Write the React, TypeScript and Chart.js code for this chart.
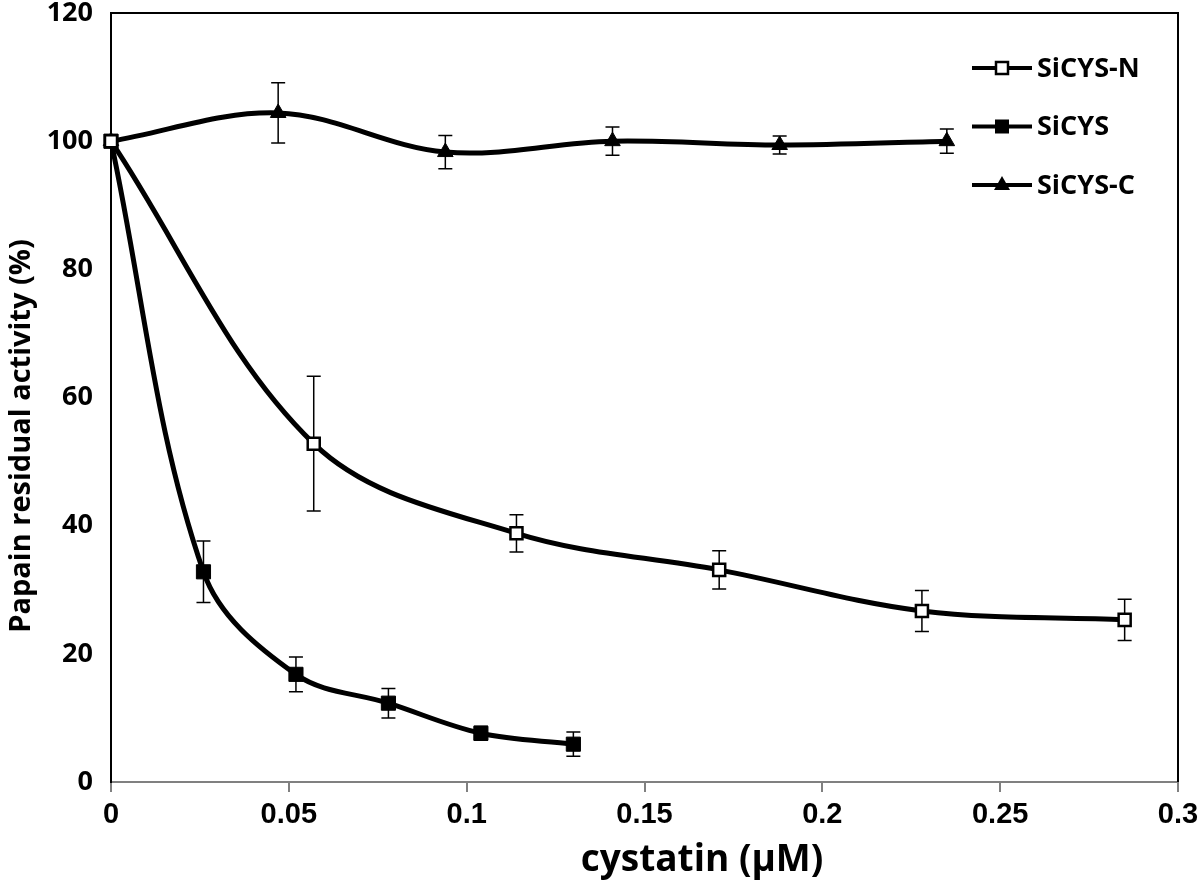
import React, { useEffect, useRef } from "react";
import { Chart, registerables } from "chart.js";

Chart.register(...registerables);

// ---------- data ----------
const SERIES_NAMES = ["SiCYS-N", "SiCYS", "SiCYS-C"];

const N_X = [0, 0.057, 0.114, 0.171, 0.228, 0.285];
const N_Y = [100, 52.8, 38.8, 33.1, 26.7, 25.3];
const N_ERR = [0, 10.5, 2.9, 3.0, 3.2, 3.2];

const S_X = [0, 0.026, 0.052, 0.078, 0.104, 0.13];
const S_Y = [100, 32.8, 16.8, 12.3, 7.6, 5.9];
const S_ERR = [0, 4.8, 2.7, 2.3, 1.1, 1.9];

const C_X = [0, 0.047, 0.094, 0.141, 0.188, 0.235];
const C_Y = [100, 104.4, 98.3, 100.0, 99.4, 100.0];
const C_ERR = [0, 4.7, 2.6, 2.2, 1.4, 1.9];

const X_TICKS = ["0", "0.05", "0.1", "0.15", "0.2", "0.25", "0.3"];
const Y_TICKS = ["0", "20", "40", "60", "80", "100", "120"];

const X_TITLE = "cystatin (μM)";
const Y_TITLE = "Papain residual activity (%)";

// ---------- helpers ----------
const toPoints = (xs: number[], ys: number[]) => xs.map((x, i) => ({ x, y: ys[i] }));

const errorBarPlugin = {
  id: "errorBars",
  beforeDatasetsDraw(chart: any) {
    const { ctx } = chart;
    const xs = chart.scales.x;
    const ys = chart.scales.y;
    ctx.save();
    ctx.strokeStyle = "#000";
    ctx.lineWidth = 1.5;
    chart.data.datasets.forEach((ds: any) => {
      ds.data.forEach((p: any, i: number) => {
        const e = ds.errors ? ds.errors[i] : 0;
        if (!e) return;
        const px = xs.getPixelForValue(p.x);
        const top = ys.getPixelForValue(p.y + e);
        const bot = ys.getPixelForValue(p.y - e);
        ctx.beginPath();
        ctx.moveTo(px, top);
        ctx.lineTo(px, bot);
        ctx.moveTo(px - 7, top);
        ctx.lineTo(px + 7, top);
        ctx.moveTo(px - 7, bot);
        ctx.lineTo(px + 7, bot);
        ctx.stroke();
      });
    });
    ctx.restore();
  },
};

const framePlugin = {
  id: "frame",
  beforeDatasetsDraw(chart: any) {
    const { ctx, chartArea } = chart;
    ctx.save();
    ctx.strokeStyle = "#000";
    ctx.lineWidth = 2;
    ctx.beginPath();
    ctx.moveTo(chartArea.left, chartArea.top);
    ctx.lineTo(chartArea.right, chartArea.top);
    ctx.lineTo(chartArea.right, chartArea.bottom);
    ctx.stroke();
    ctx.restore();
  },
};

const titlesPlugin = {
  id: "axisTitles",
  afterDraw(chart: any) {
    const { ctx } = chart;
    ctx.save();
    ctx.fillStyle = "#000";
    ctx.font = "bold 37px 'Open Sans'";
    ctx.textAlign = "center";
    ctx.textBaseline = "alphabetic";
    ctx.fillText(X_TITLE, 702, 871);
    ctx.translate(30, 436);
    ctx.rotate(-Math.PI / 2);
    ctx.font = "bold 29px 'Open Sans'";
    ctx.fillText(Y_TITLE, 0, 0);
    ctx.restore();
  },
};

const legendPlugin = {
  id: "customLegend",
  afterDraw(chart: any) {
    const { ctx } = chart;
    const x0 = 972;
    const x1 = 1032;
    const xm = (x0 + x1) / 2;
    const y0 = 68;
    const dy = 58.5;
    ctx.save();
    SERIES_NAMES.forEach((name, i) => {
      const y = y0 + i * dy;
      ctx.strokeStyle = "#000";
      ctx.lineWidth = 4;
      ctx.beginPath();
      ctx.moveTo(x0, y);
      ctx.lineTo(x1, y);
      ctx.stroke();
      if (i === 0) {
        ctx.fillStyle = "#fff";
        ctx.fillRect(xm - 6, y - 6, 12, 12);
        ctx.lineWidth = 2.5;
        ctx.strokeRect(xm - 6, y - 6, 12, 12);
      } else if (i === 1) {
        ctx.fillStyle = "#000";
        ctx.fillRect(xm - 7, y - 7, 14, 14);
      } else {
        ctx.fillStyle = "#000";
        ctx.beginPath();
        ctx.moveTo(xm, y - 9);
        ctx.lineTo(xm + 8, y + 5);
        ctx.lineTo(xm - 8, y + 5);
        ctx.closePath();
        ctx.fill();
      }
      ctx.fillStyle = "#000";
      ctx.font = "bold 27px 'Open Sans'";
      ctx.textAlign = "left";
      ctx.textBaseline = "middle";
      ctx.fillText(name, 1037, y + 1);
    });
    ctx.restore();
  },
};

export default function App() {
  const canvasRef = useRef<HTMLCanvasElement | null>(null);

  useEffect(() => {
    if (!canvasRef.current) return;
    const common = {
      borderColor: "#000",
      borderWidth: 5,
      tension: 0.35,
      fill: false,
      clip: false as any,
      pointBorderColor: "#000",
    };
    const chart = new Chart(canvasRef.current, {
      type: "line",
      data: {
        datasets: [
          {
            ...common,
            label: SERIES_NAMES[0],
            data: toPoints(N_X, N_Y),
            errors: N_ERR,
            pointStyle: "rect",
            pointRadius: 8.5,
            pointBackgroundColor: "#fff",
            pointBorderWidth: 2.5,
          } as any,
          {
            ...common,
            label: SERIES_NAMES[1],
            data: toPoints(S_X, S_Y),
            errors: S_ERR,
            pointStyle: "rect",
            pointRadius: 10,
            pointBackgroundColor: "#000",
            pointBorderWidth: 1,
          } as any,
          {
            ...common,
            label: SERIES_NAMES[2],
            data: toPoints(C_X, C_Y),
            errors: C_ERR,
            pointStyle: "triangle",
            pointRadius: 9,
            pointBackgroundColor: "#000",
            pointBorderWidth: 1,
          } as any,
        ],
      },
      options: {
        responsive: false,
        animation: false,
        events: [],
        layout: { padding: { top: 13, right: 22, left: 0, bottom: 0 } },
        plugins: {
          legend: { display: false },
          tooltip: { enabled: false },
        },
        scales: {
          x: {
            type: "linear",
            min: 0,
            max: 0.3,
            ticks: {
              stepSize: 0.05,
              autoSkip: false,
              maxRotation: 0,
              padding: 6,
              color: "#000",
              font: { family: "'Liberation Sans'", weight: "bold", size: 29 },
              callback: (v: any) => X_TICKS[Math.round(Number(v) / 0.05)] ?? "",
            },
            grid: {
              drawOnChartArea: false,
              drawTicks: true,
              tickLength: 10,
              color: "#808080",
              lineWidth: 2,
            },
            border: { display: true, color: "#808080", width: 2 },
            afterFit: (s: any) => {
              s.height = 103;
              s.paddingLeft = 0;
              s.paddingRight = 0;
            },
          } as any,
          y: {
            type: "linear",
            min: 0,
            max: 120,
            ticks: {
              stepSize: 20,
              padding: 18,
              color: "#000",
              font: { family: "'Open Sans'", weight: "bold", size: 27 },
              callback: (v: any) => Y_TICKS[Math.round(Number(v) / 20)] ?? "",
            },
            grid: { drawOnChartArea: false, drawTicks: false },
            border: { display: true, color: "#000", width: 2 },
            afterFit: (s: any) => {
              s.width = 111;
              s.paddingTop = 0;
              s.paddingBottom = 0;
            },
          } as any,
        },
      },
      plugins: [framePlugin, errorBarPlugin, titlesPlugin, legendPlugin],
    });
    return () => chart.destroy();
  }, []);

  return (
    <div style={{ position: "absolute", left: 0, top: 0, width: 1200, height: 885, background: "#fff" }}>
      <canvas ref={canvasRef} width={1200} height={885} style={{ display: "block" }} />
    </div>
  );
}
